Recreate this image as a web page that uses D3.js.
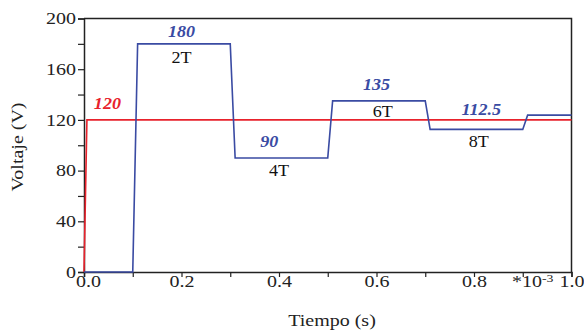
<!DOCTYPE html>
<html>
<head>
<meta charset="utf-8">
<script src="https://cdn.jsdelivr.net/npm/d3@7"></script>
<style>
  body { margin: 0; background: #fff; }
  svg { display: block; }
</style>
</head>
<body>
<svg id="chart" width="584" height="335" font-family="Liberation Serif"></svg>
<script>
// reference voltage (red)
const refTime = [0, 0.006, 1.0];
const refVolt = [0, 120, 120];

// output voltage (blue), steps every 0.2 with short ramps
const outTime = [0, 0.1, 0.11, 0.3, 0.31, 0.5, 0.51, 0.7, 0.71, 0.9, 0.91, 1.0];
const outVolt = [0, 0, 180, 180, 90, 90, 135, 135, 112.5, 112.5, 123.75, 123.75];

// value labels
const valueText = ['120', '180', '90', '135', '112.5'];
const valueTime = [0.048, 0.2, 0.38, 0.6, 0.815];
const valueVolt = [120, 180, 90, 135, 112.5];

// period labels
const periodText = ['2T', '4T', '6T', '8T'];
const periodTime = [0.2, 0.4, 0.613, 0.81];
const periodVolt = [180, 90, 135, 112.5];

const xTicks = d3.range(0, 11).map(i => i / 10);
const yTicks = d3.range(0, 11).map(i => i * 20);

const FONT = 'Liberation Serif';
const AX_STRETCH = 1.25;   // the original type is set wide
const LBL_STRETCH = 1.13;

const svg = d3.select('#chart');
const margin = { top: 18.5, right: 12.5, bottom: 63, left: 84 };
const W = 584, H = 335;

const x = d3.scaleLinear().domain([0, 1]).range([margin.left, W - margin.right]);
const y = d3.scaleLinear().domain([0, 200]).range([H - margin.bottom, margin.top]);

const axisColor = '#222';
const red = '#e8222c';
const blue = '#3a4ba3';

// wide text helper: places text at (px,py) stretched horizontally
function wideText(px, py, s, rot) {
    return svg.append('text')
        .attr('transform', `translate(${px},${py})${rot ? ` rotate(${rot})` : ''} scale(${s},1)`)
        .attr('font-family', FONT);
}

// frame top/right
svg.append('path')
    .attr('d', `M${x(0)},${y(200)}H${x(1)}V${y(0)}`)
    .attr('fill', 'none')
    .attr('stroke', axisColor)
    .attr('stroke-width', 1.5);

// x axis
const xAxis = d3.axisBottom(x)
    .tickValues(xTicks)
    .tickSize(5)
    .tickFormat(d => (Math.round(d * 10) % 2 === 0 ? d3.format('.1f')(d) : ''));
const gx = svg.append('g')
    .attr('transform', `translate(0,${y(0)})`)
    .call(xAxis);

// y axis
const yAxis = d3.axisLeft(y)
    .tickValues(yTicks)
    .tickSize(6)
    .tickFormat(d => (d % 40 === 0 ? d : ''));
const gy = svg.append('g')
    .attr('transform', `translate(${x(0)},0)`)
    .call(yAxis);

[gx, gy].forEach(g => {
    g.attr('font-family', FONT).attr('font-size', 16);
    g.select('.domain').attr('stroke', axisColor).attr('stroke-width', 1.5);
    g.selectAll('.tick line').attr('stroke', axisColor).attr('stroke-width', 1.2);
    g.selectAll('.tick text')
        .attr('fill', '#222')
        .attr('font-family', FONT)
        .attr('font-size', 16)
        .attr('transform', `scale(${AX_STRETCH},1)`);
});
gx.selectAll('.tick text').attr('y', 15).attr('dy', 0);
// first x label sits a little right of its tick in the original
gx.selectAll('.tick text').filter(d => d === 0).attr('x', 4 / AX_STRETCH);
gy.selectAll('.tick text').attr('x', -8 / AX_STRETCH).attr('dy', '0.32em');

// *10^-3 multiplier
const mult = wideText(512, 287, AX_STRETCH)
    .attr('fill', '#222')
    .attr('font-size', 16);
mult.append('tspan').text('*10');
mult.append('tspan').attr('dy', -5).attr('font-size', 11).text('-3');

// axis titles
wideText(332, 326, AX_STRETCH)
    .attr('text-anchor', 'middle')
    .attr('fill', '#222')
    .attr('font-size', 16)
    .text('Tiempo (s)');

wideText(23, 147, AX_STRETCH, -90)
    .attr('text-anchor', 'middle')
    .attr('fill', '#222')
    .attr('font-size', 16)
    .text('Voltaje (V)');

// lines
const line = d3.line().x(d => x(d[0])).y(d => y(d[1]));

svg.append('path')
    .datum(refTime.map((t, i) => [t, refVolt[i]]))
    .attr('d', line)
    .attr('fill', 'none')
    .attr('stroke', red)
    .attr('stroke-width', 1.6);

svg.append('path')
    .datum(outTime.map((t, i) => [t, outVolt[i]]))
    .attr('d', line)
    .attr('fill', 'none')
    .attr('stroke', blue)
    .attr('stroke-width', 1.6);

// labels
const valueDy = [-10.5, -7, -10.5, -11, -14];
valueText.forEach((txt, i) => {
    wideText(x(valueTime[i]), y(valueVolt[i]) + valueDy[i], LBL_STRETCH)
        .attr('text-anchor', 'middle')
        .attr('fill', i === 0 ? red : blue)
        .attr('font-size', 16)
        .attr('font-weight', 'bold')
        .attr('font-style', 'italic')
        .text(txt);
});

const periodDy = [19, 18.5, 16.5, 18];
periodText.forEach((txt, i) => {
    wideText(x(periodTime[i]), y(periodVolt[i]) + periodDy[i], LBL_STRETCH)
        .attr('text-anchor', 'middle')
        .attr('fill', '#111')
        .attr('font-size', 16)
        .text(txt);
});
</script>
</body>
</html>
